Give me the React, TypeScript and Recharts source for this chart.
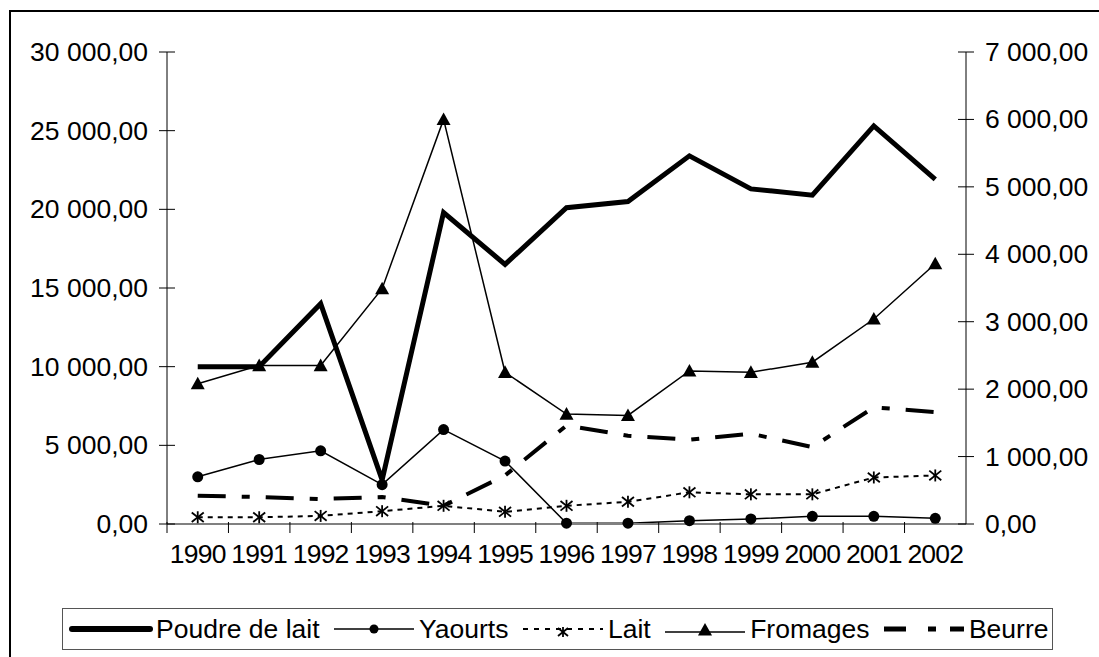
import React from 'react';
import { LineChart, Line, XAxis, YAxis, Legend } from 'recharts';

const YEARS = ['1990', '1991', '1992', '1993', '1994', '1995', '1996', '1997', '1998', '1999', '2000', '2001', '2002'];
const POUDRE = [10000, 10000, 14000, 2800, 19800, 16500, 20100, 20500, 23400, 21300, 20900, 25300, 21900];
const YAOURTS = [3000, 4100, 4650, 2500, 6000, 4000, 50, 50, 210, 320, 490, 490, 360];
const LAIT = [100, 100, 120, 190, 270, 180, 270, 330, 470, 440, 440, 690, 720];
const FROMAGES = [2080, 2350, 2350, 3490, 6000, 2250, 1630, 1610, 2270, 2250, 2400, 3040, 3860];
const BEURRE = [420, 400, 370, 400, 270, 720, 1460, 1310, 1250, 1340, 1140, 1730, 1660];
const LEFT_TICKS = [0, 5000, 10000, 15000, 20000, 25000, 30000];
const RIGHT_TICKS = [0, 1000, 2000, 3000, 4000, 5000, 6000, 7000];
const SERIES_NAMES = ['Poudre de lait', 'Yaourts', 'Lait', 'Fromages', 'Beurre'];

const data = YEARS.map((y, i) => ({
  year: y,
  poudre: POUDRE[i],
  yaourts: YAOURTS[i],
  lait: LAIT[i],
  fromages: FROMAGES[i],
  beurre: BEURRE[i],
}));

const FONT = '"Liberation Sans", Arial, sans-serif';
const FS = 26.5;
const W = 1091;
const H = 649;
const M = { top: 44, right: 0, bottom: 31, left: 0 };
const LEFT_W = 159;
const RIGHT_W = 133;
const PLOT_W = W - LEFT_W - RIGHT_W;
const BAND = PLOT_W / YEARS.length;
const Y_MARGIN = 19;
const X_MARGIN = 30;

const fmt = (v: number) => {
  const [int, dec] = v.toFixed(2).split('.');
  const withSp = int.replace(/\B(?=(\d{3})+(?!\d))/g, ' ');
  return `${withSp},${dec}`;
};

const LeftTick = (props: any) => {
  const { x, y, payload } = props;
  const ax = x + Y_MARGIN;
  return (
    <g>
      <line x1={ax - 8} x2={ax + 8} y1={y} y2={y} stroke="#000" strokeWidth={1} />
      <text x={x} y={y} textAnchor="end" dominantBaseline="central" fontFamily={FONT} fontSize={FS} fill="#000">
        {fmt(payload.value)}
      </text>
    </g>
  );
};

const RightTick = (props: any) => {
  const { x, y, payload } = props;
  const ax = x - Y_MARGIN;
  return (
    <g>
      <line x1={ax - 8} x2={ax + 8} y1={y} y2={y} stroke="#000" strokeWidth={1} />
      <text x={x} y={y} textAnchor="start" dominantBaseline="central" fontFamily={FONT} fontSize={FS} fill="#000">
        {fmt(payload.value)}
      </text>
    </g>
  );
};

const XTick = (props: any) => {
  const { x, y, payload } = props;
  const ay = y - X_MARGIN;
  const bx = x - BAND / 2;
  return (
    <g>
      <line x1={bx} x2={bx} y1={ay - 2} y2={ay + 9} stroke="#000" strokeWidth={1} />
      <text x={x} y={y} textAnchor="middle" dominantBaseline="central" fontFamily={FONT} fontSize={FS} fill="#000" letterSpacing={-0.8}>
        {payload.value}
      </text>
    </g>
  );
};

const Star = ({ cx, cy, s = 6 }: { cx: number; cy: number; s?: number }) => (
  <g stroke="#000" strokeWidth={1.8}>
    <line x1={cx - s} y1={cy - s * 0.8} x2={cx + s} y2={cy + s * 0.8} />
    <line x1={cx - s} y1={cy + s * 0.8} x2={cx + s} y2={cy - s * 0.8} />
    <line x1={cx} y1={cy - s} x2={cx} y2={cy + s} />
  </g>
);

const Tri = ({ cx, cy, s = 7 }: { cx: number; cy: number; s?: number }) => (
  <polygon points={`${cx},${cy - s} ${cx + s},${cy + s * 0.8} ${cx - s},${cy + s * 0.8}`} fill="#000" />
);

const starDot = (p: any) => (p.cx == null ? <g key={p.key} /> : <g key={p.key}><Star cx={p.cx} cy={p.cy} /></g>);
const triDot = (p: any) => (p.cx == null ? <g key={p.key} /> : <g key={p.key}><Tri cx={p.cx} cy={p.cy} /></g>);

const BEURRE_DASH = '28 16 8 16';
const LAIT_DASH = '5 5';

const LegendIcon = ({ idx }: { idx: number }) => {
  const w = 84;
  const h = 22;
  const c = h / 2;
  let content: React.ReactNode = null;
  if (idx === 0) content = <line x1={3} x2={w - 3} y1={c} y2={c} stroke="#000" strokeWidth={6} strokeLinecap="round" />;
  if (idx === 1)
    content = (
      <g>
        <line x1={2} x2={w - 2} y1={c} y2={c} stroke="#000" strokeWidth={1.5} />
        <circle cx={w / 2} cy={c} r={4.5} fill="#000" />
      </g>
    );
  if (idx === 2)
    content = (
      <g>
        <line x1={2} x2={w - 2} y1={c} y2={c} stroke="#000" strokeWidth={2} strokeDasharray="5 6" />
        <Star cx={w / 2} cy={c + 3} s={5} />
      </g>
    );
  if (idx === 3)
    content = (
      <g>
        <line x1={2} x2={w - 2} y1={c + 3} y2={c + 3} stroke="#000" strokeWidth={1.5} />
        <Tri cx={w / 2} cy={c + 1} s={7} />
      </g>
    );
  if (idx === 4)
    content = <line x1={2} x2={w - 2} y1={c} y2={c} stroke="#000" strokeWidth={5} strokeDasharray="22 22 8 14" />;
  return (
    <svg width={w} height={h} style={{ display: 'block' }}>
      {content}
    </svg>
  );
};

const renderLegend = () => (
  <div
    style={{
      boxSizing: 'border-box',
      width: 991,
      height: 42,
      border: '1.5px solid #555',
      display: 'flex',
      alignItems: 'center',
      paddingLeft: 6,
      fontFamily: FONT,
      fontSize: FS,
      color: '#000',
      whiteSpace: 'nowrap',
    }}
  >
    {SERIES_NAMES.map((n, i) => (
      <div key={n} style={{ display: 'flex', alignItems: 'center', marginRight: 12.5 }}>
        <LegendIcon idx={i} />
        <span style={{ marginLeft: 3 }}>{n}</span>
      </div>
    ))}
  </div>
);

export default function App() {
  return (
    <div style={{ position: 'fixed', left: 8, top: 8, width: W, height: H, overflow: 'hidden', background: '#fff' }}>
      <LineChart width={W} height={H} data={data} margin={M}>
        <XAxis
          dataKey="year"
          xAxisId="x"
          stroke="#808080"
          strokeWidth={2}
          tickLine={false}
          tickSize={0}
          tickMargin={X_MARGIN}
          height={60}
          padding={{ left: BAND / 2, right: BAND / 2 }}
          tick={<XTick />}
          interval={0}
        />
        <YAxis
          yAxisId="left"
          orientation="left"
          width={LEFT_W}
          domain={[0, 30000]}
          ticks={LEFT_TICKS}
          stroke="#000"
          tickLine={false}
          tickSize={0}
          tickMargin={Y_MARGIN}
          tick={<LeftTick />}
          interval={0}
        />
        <YAxis
          yAxisId="right"
          orientation="right"
          width={RIGHT_W}
          domain={[0, 7000]}
          ticks={RIGHT_TICKS}
          stroke="#000"
          tickLine={false}
          tickSize={0}
          tickMargin={Y_MARGIN}
          tick={<RightTick />}
          interval={0}
        />
        <Legend
          verticalAlign="bottom"
          content={renderLegend}
          wrapperStyle={{ left: 54, top: 600, width: 991, height: 42 }}
        />
        <Line xAxisId="x" yAxisId="right" dataKey="beurre" name="Beurre" stroke="#000" strokeWidth={4} strokeDasharray={BEURRE_DASH} dot={false} isAnimationActive={false} />
        <Line xAxisId="x" yAxisId="right" dataKey="lait" name="Lait" stroke="#000" strokeWidth={2} strokeDasharray={LAIT_DASH} dot={starDot} isAnimationActive={false} />
        <Line xAxisId="x" yAxisId="left" dataKey="yaourts" name="Yaourts" stroke="#000" strokeWidth={1.5} dot={{ r: 5.5, fill: '#000', stroke: 'none' }} isAnimationActive={false} />
        <Line xAxisId="x" yAxisId="right" dataKey="fromages" name="Fromages" stroke="#000" strokeWidth={1.5} dot={triDot} isAnimationActive={false} />
        <Line xAxisId="x" yAxisId="left" dataKey="poudre" name="Poudre de lait" stroke="#000" strokeWidth={5} dot={false} isAnimationActive={false} />
      </LineChart>
      <div
        style={{
          position: 'absolute',
          left: 1,
          top: 2,
          width: 1200,
          height: 800,
          border: '2px solid #000',
          pointerEvents: 'none',
        }}
      />
    </div>
  );
}
